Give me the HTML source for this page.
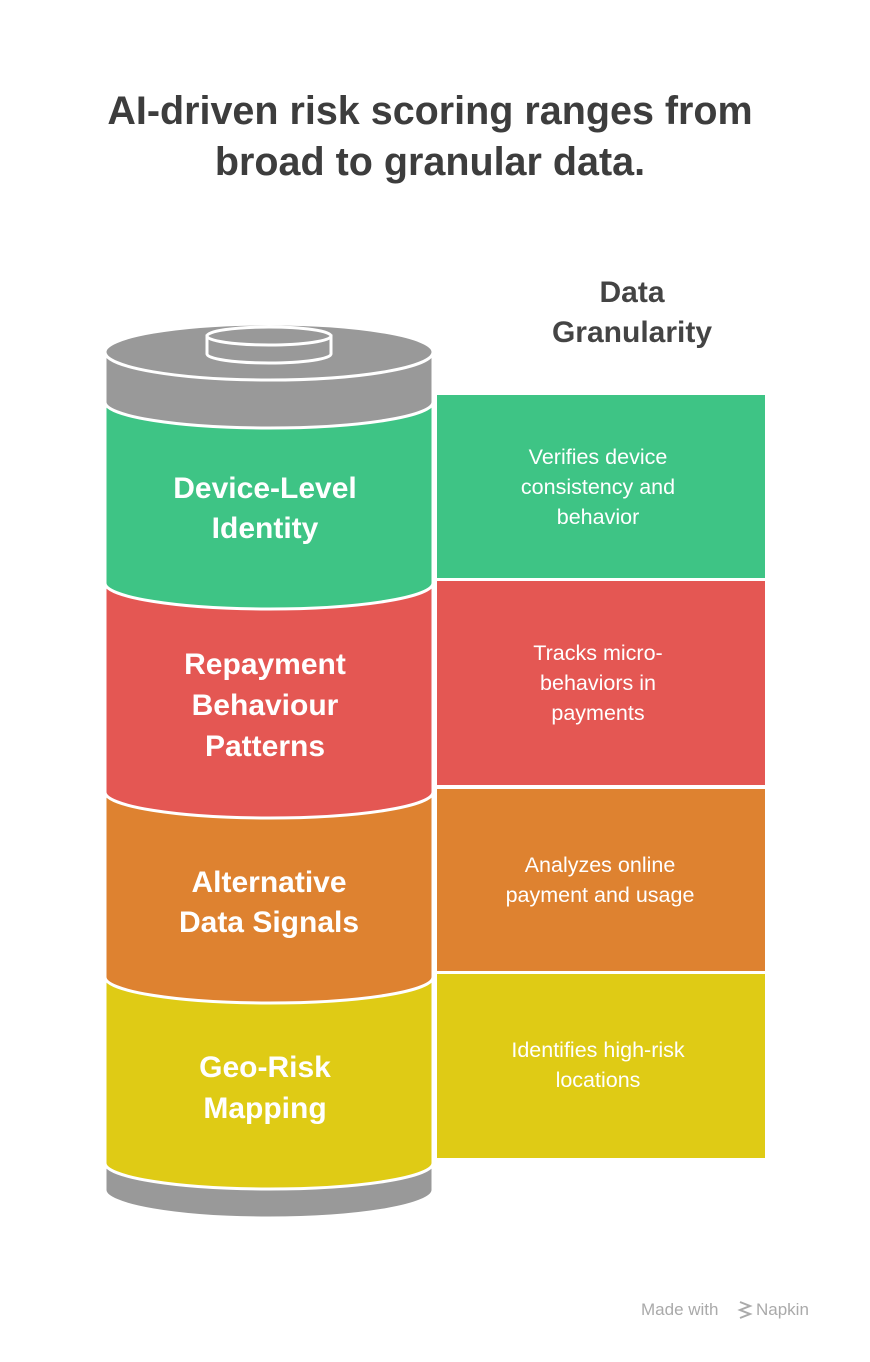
<!DOCTYPE html>
<html><head><meta charset="utf-8"><style>
html,body{margin:0;padding:0;background:#fff;}
body{width:870px;height:1357px;overflow:hidden;font-family:"Liberation Sans",sans-serif;}
</style></head><body>
<svg width="870" height="1357" viewBox="0 0 870 1357" xmlns="http://www.w3.org/2000/svg" font-family="Liberation Sans, sans-serif">
<rect width="870" height="1357" fill="#fff"/>
<text x="430" y="124" text-anchor="middle" font-size="39.5" font-weight="bold" fill="#3d3d3d">AI-driven risk scoring ranges from</text>
<text x="430" y="175" text-anchor="middle" font-size="39.5" font-weight="bold" fill="#3d3d3d">broad to granular data.</text>
<text x="632" y="302" text-anchor="middle" font-size="30" font-weight="bold" fill="#444">Data</text>
<text x="632" y="342" text-anchor="middle" font-size="30" font-weight="bold" fill="#444">Granularity</text>

<g stroke="#fff" stroke-width="3">
<path d="M105,1163 L105,1190 A164,28 0 0 0 433,1190 L433,1163 Z" fill="#999"/>
<path d="M105,977 L105,1163 A164,26 0 0 0 433,1163 L433,977 Z" fill="#dfcb15"/>
<path d="M105,792 L105,977 A164,26 0 0 0 433,977 L433,792 Z" fill="#de8230"/>
<path d="M105,583 L105,792 A164,26 0 0 0 433,792 L433,583 Z" fill="#e45753"/>
<path d="M105,402 L105,583 A164,26 0 0 0 433,583 L433,402 Z" fill="#3ec485"/>
<path d="M105,352 L105,402 A164,26 0 0 0 433,402 L433,352 Z" fill="#999"/>
<ellipse cx="269" cy="352" rx="164" ry="28" fill="#999"/>
<path d="M207,336 L207,354 A62,9 0 0 0 331,354 L331,336 Z" fill="#999"/>
<ellipse cx="269" cy="336" rx="62" ry="9" fill="#999"/>
</g>

<rect x="437" y="395" width="328" height="183" fill="#3ec485"/>
<rect x="437" y="581" width="328" height="204" fill="#e45753"/>
<rect x="437" y="789" width="328" height="182" fill="#de8230"/>
<rect x="437" y="974" width="328" height="184" fill="#dfcb15"/>

<g fill="#fff" font-weight="bold" font-size="30" text-anchor="middle">
<text x="265" y="498">Device-Level</text>
<text x="265" y="538">Identity</text>
<text x="265" y="674">Repayment</text>
<text x="265" y="715">Behaviour</text>
<text x="265" y="756">Patterns</text>
<text x="269" y="892">Alternative</text>
<text x="269" y="932">Data Signals</text>
<text x="265" y="1077">Geo-Risk</text>
<text x="265" y="1118">Mapping</text>
</g>
<g fill="#fff" font-size="21.5" text-anchor="middle">
<text x="598" y="464">Verifies device</text>
<text x="598" y="494">consistency and</text>
<text x="598" y="524">behavior</text>
<text x="598" y="660">Tracks micro-</text>
<text x="598" y="690">behaviors in</text>
<text x="598" y="720">payments</text>
<text x="600" y="872">Analyzes online</text>
<text x="600" y="902">payment and usage</text>
<text x="598" y="1057">Identifies high-risk</text>
<text x="598" y="1087">locations</text>
</g>
<text x="641" y="1315" font-size="17" fill="#aaa">Made with</text>
<g stroke="#aaa" stroke-width="2" fill="none"><path d="M740,1302 l10,4 l-10,4 l10,4 l-10,4"/></g>
<text x="756" y="1315" font-size="17" fill="#aaa">Napkin</text>
</svg>
</body></html>
